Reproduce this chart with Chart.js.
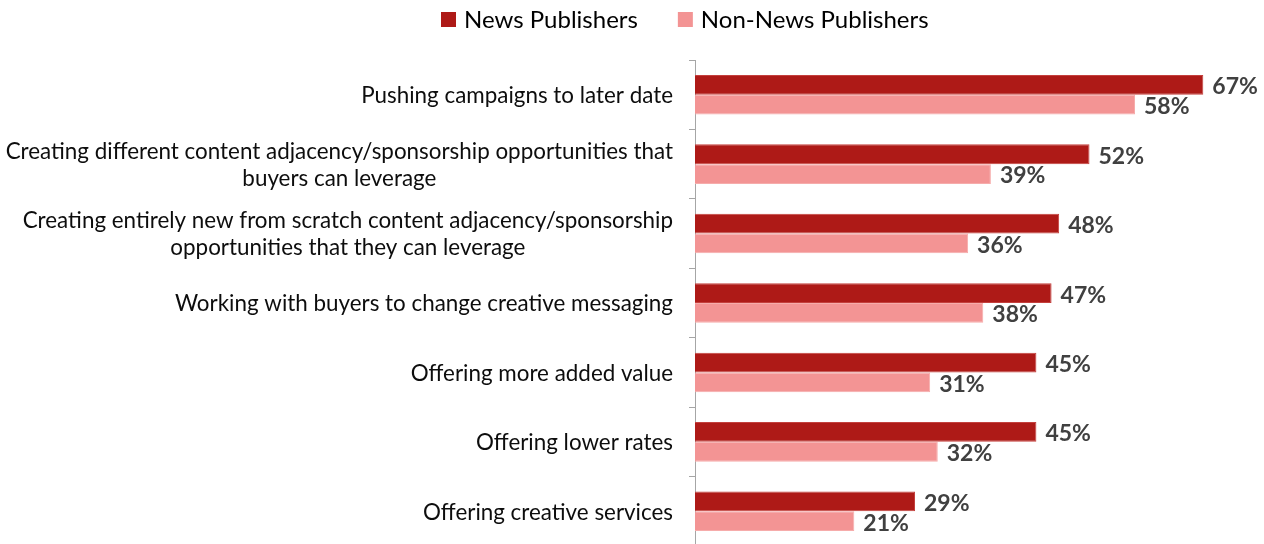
<!DOCTYPE html>
<html>
<head>
<meta charset="utf-8">
<title>Publisher responses</title>
<script src="https://cdn.jsdelivr.net/npm/chart.js@4.4.1/dist/chart.umd.min.js"></script>
<style>
  html, body { margin: 0; padding: 0; background: #ffffff; overflow: hidden; }
  #wrap { position: relative; width: 1264px; height: 546px; }
</style>
</head>
<body>
<div id="wrap"><canvas id="chart"></canvas></div>
<script>
// Response categories (multi-line labels given as arrays of lines)
const categories = [
  "Pushing campaigns to later date",
  ["Creating different content adjacency/sponsorship opportunities that", "buyers can leverage"],
  ["Creating entirely new from scratch content adjacency/sponsorship", "opportunities that they can leverage"],
  "Working with buyers to change creative messaging",
  "Offering more added value",
  "Offering lower rates",
  "Offering creative services"
];

const seriesNames = ["News Publishers", "Non-News Publishers"];
const newsPublishers = [67, 52, 48, 47, 45, 45, 29];
const nonNewsPublishers = [58, 39, 36, 38, 31, 32, 21];

const FONT = "Lato, 'Open Sans', sans-serif";
const DARK_RED = "#ae1a17";
const PINK = "#f39494";

// Category labels: each block right-aligned, lines centred within the block
const categoryLabels = {
  id: "categoryLabels",
  afterDraw(chart) {
    const ctx = chart.ctx;
    const yScale = chart.scales.y;
    const rightX = 673;
    const lineHeight = 27;
    ctx.save();
    ctx.font = "22.4px " + FONT;
    ctx.fillStyle = "#0d0d0d";
    ctx.textBaseline = "middle";
    ctx.textAlign = "center";
    categories.forEach((label, i) => {
      const lines = Array.isArray(label) ? label : [label];
      const blockW = Math.max(...lines.map(l => ctx.measureText(l).width));
      const cx = rightX - blockW / 2;
      const cy = yScale.getPixelForValue(i);
      const startY = cy - (lines.length - 1) * lineHeight / 2;
      lines.forEach((line, k) => ctx.fillText(line, cx, startY + k * lineHeight + 1));
    });
    ctx.restore();
  }
};

// Percentage labels at the end of each bar
const valueLabels = {
  id: "valueLabels",
  afterDatasetsDraw(chart) {
    const ctx = chart.ctx;
    ctx.save();
    ctx.font = "bold 23px " + FONT;
    ctx.fillStyle = "#404040";
    ctx.textBaseline = "middle";
    ctx.textAlign = "left";
    chart.data.datasets.forEach((ds, di) => {
      const meta = chart.getDatasetMeta(di);
      meta.data.forEach((bar, i) => {
        ctx.fillText(ds.data[i] + "%", bar.x + 9, bar.y + 2);
      });
    });
    ctx.restore();
  }
};

// Legend row above the plot
const topLegend = {
  id: "topLegend",
  afterDraw(chart) {
    const ctx = chart.ctx;
    ctx.save();
    ctx.font = "24px " + FONT;
    ctx.textBaseline = "alphabetic";
    ctx.textAlign = "left";
    let x = 441;
    chart.data.datasets.forEach((ds) => {
      ctx.fillStyle = ds.backgroundColor;
      ctx.fillRect(x, 12, 15, 15);
      x += 15 + 8;
      ctx.fillStyle = "#000000";
      ctx.fillText(ds.label, x, 28);
      x += ctx.measureText(ds.label).width + 40;
    });
    ctx.restore();
  }
};

new Chart(document.getElementById("chart"), {
  type: "bar",
  data: {
    labels: categories,
    datasets: [
      {
        label: seriesNames[0],
        data: newsPublishers,
        backgroundColor: DARK_RED,
        borderColor: "#c4403d",
        borderWidth: 1,
        categoryPercentage: 0.57,
        barPercentage: 1.0
      },
      {
        label: seriesNames[1],
        data: nonNewsPublishers,
        backgroundColor: PINK,
        borderColor: "#f6acab",
        borderWidth: 1,
        categoryPercentage: 0.57,
        barPercentage: 1.0
      }
    ]
  },
  options: {
    indexAxis: "y",
    responsive: true,
    maintainAspectRatio: false,
    animation: false,
    layout: { padding: { top: 60, left: 689, right: 0, bottom: 0 } },
    scales: {
      x: {
        display: false,
        min: 0,
        max: 75
      },
      y: {
        ticks: { display: false },
        grid: {
          drawOnChartArea: false,
          drawTicks: true,
          tickLength: 6,
          color: "#a6a6a6",
          offset: true
        },
        border: { color: "#a6a6a6", width: 1 }
      }
    },
    plugins: {
      legend: { display: false },
      tooltip: { enabled: false }
    }
  },
  plugins: [categoryLabels, valueLabels, topLegend]
});
</script>
</body>
</html>
